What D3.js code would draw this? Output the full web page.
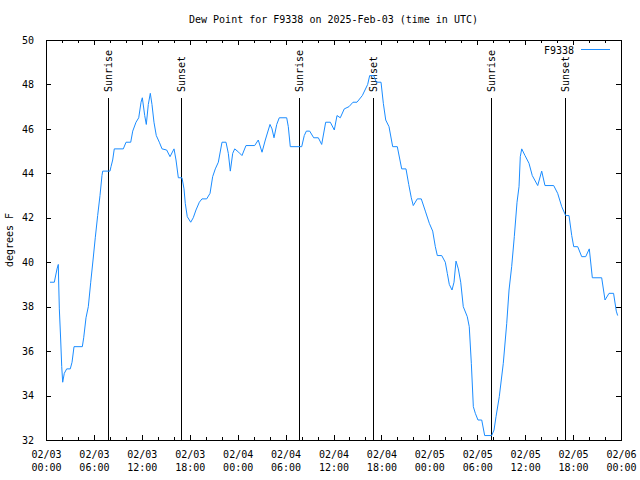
<!DOCTYPE html>
<html>
<head>
<meta charset="utf-8">
<script src="https://cdn.jsdelivr.net/npm/d3@7"></script>
<style>
  html, body { margin: 0; padding: 0; background: #fff; }
  svg { display: block; }
  text { font-family: "DejaVu Sans Mono", "Liberation Mono", monospace; font-size: 10px; fill: #000; }
</style>
</head>
<body>
<svg id="chart" width="640" height="480"></svg>
<script>
// ---- Data (hours since 2025-02-03 00:00 UTC) ----
const titleText = "Dew Point for F9338 on 2025-Feb-03 (time in UTC)";
const seriesName = "F9338";
const yLabel = "degrees F";
const hours = [
  0.50, 1.04, 1.38, 1.54, 1.58, 1.67, 1.84, 1.97, 2.09, 2.29, 2.59, 3.04, 3.26, 3.51, 4.55, 4.72,
  5.01, 5.30, 5.60, 5.89, 6.17, 6.47, 6.76, 7.01, 7.10, 8.01, 8.14, 8.35, 8.55, 9.68, 10.02, 10.61,
  10.86, 11.27, 11.61, 11.90, 12.06, 12.36, 12.56, 12.81, 13.06, 13.27, 13.52, 13.81, 14.19, 14.53,
  15.11, 15.53, 16.03, 16.28, 16.57, 17.03, 17.28, 17.44, 17.69, 18.12, 18.44, 18.78, 19.20, 19.53,
  20.12, 20.54, 20.87, 21.20, 21.58, 22.04, 22.54, 22.83, 23.08, 23.38, 23.63, 24.13, 24.54, 25.04,
  26.13, 26.58, 27.05, 27.46, 28.05, 28.30, 28.55, 28.89, 29.21, 30.14, 30.34, 30.59, 32.02, 32.34,
  32.60, 33.02, 33.52, 34.10, 34.52, 35.02, 35.60, 36.10, 36.44, 36.85, 37.35, 37.94, 38.44, 38.94,
  39.61, 40.28, 40.53, 41.03, 41.36, 41.95, 42.24, 42.54, 42.95, 43.41, 43.99, 44.54, 45.08, 45.42,
  45.74, 45.99, 46.49, 46.99, 47.50, 48.00, 48.42, 48.75, 49.00, 49.55, 50.00, 50.25, 50.50, 50.84,
  51.09, 51.34, 51.63, 51.93, 52.25, 52.75, 53.00, 53.26, 53.51, 53.76, 54.09, 54.56, 54.93, 55.81,
  56.10, 56.35, 56.76, 57.26, 57.69, 57.98, 58.31, 58.64, 58.98, 59.23, 59.39, 59.57, 59.98, 60.48,
  60.89, 61.57, 62.07, 62.48, 63.57, 64.07, 64.58, 65.07, 65.49, 65.83, 66.08, 66.58, 67.08, 67.58,
  68.03, 68.41, 69.58, 70.00, 70.50, 71.07, 71.41, 71.58
];
const dewPoint = [
  39.1, 39.1, 39.7, 39.9, 39.2, 37.9, 36.5, 35.3, 34.6, 35.0, 35.2, 35.2, 35.5, 36.2, 36.2, 36.6,
  37.5, 38.0, 39.1, 40.1, 41.1, 42.1, 43.0, 43.9, 44.1, 44.1, 44.3, 44.6, 45.1, 45.1, 45.4, 45.4,
  45.9, 46.3, 46.5, 47.2, 47.4, 46.6, 46.2, 47.1, 47.6, 47.1, 46.3, 45.7, 45.4, 45.1,
  45.05, 44.75, 45.1, 44.6, 43.8, 43.8, 43.3, 42.65, 42.05, 41.8, 42.0, 42.35, 42.7, 42.85,
  42.85, 43.1, 43.85, 44.2, 44.5, 45.4, 45.4, 44.9, 44.1, 44.9, 45.1, 44.95, 44.8, 45.25,
  45.25, 45.5, 44.95, 45.5, 46.2, 46.0, 45.6, 46.2, 46.5, 46.5, 46.1, 45.2, 45.2, 45.7,
  45.9, 45.9, 45.6, 45.6, 45.3, 46.3, 46.3, 45.95, 46.6, 46.5, 46.9, 47.0, 47.2, 47.2,
  47.5, 48.0, 48.4, 48.4, 48.1, 48.1, 47.15, 46.4, 46.1, 45.2, 45.2, 44.2, 44.2, 43.5,
  42.9, 42.55, 42.85, 42.85, 42.3, 41.75, 41.4, 40.7, 40.3, 40.3, 40.0, 39.5, 39.0, 38.75,
  39.1, 40.05, 39.7, 39.1, 38.0, 37.55, 37.1, 35.45, 33.5, 33.2, 32.9, 32.9, 32.2, 32.2,
  32.45, 33.05, 33.95, 35.45, 37.25, 38.75, 39.8, 41.15, 42.7, 43.4, 44.75, 45.1, 44.8, 44.45,
  43.9, 43.45, 44.1, 43.45, 43.45, 43.1, 42.5, 42.1, 42.1, 41.2, 40.7, 40.7, 40.25, 40.25,
  40.6, 39.3, 39.3, 38.3, 38.6, 38.6, 37.8, 37.6
];
const sunLabels = ["Sunrise", "Sunset", "Sunrise", "Sunset", "Sunrise", "Sunset"];
const sunHours = [7.80, 16.94, 31.72, 40.99, 55.76, 65.03];
const yTicks = [32, 34, 36, 38, 40, 42, 44, 46, 48, 50];
const majorTickHours = [0, 6, 12, 18, 24, 30, 36, 42, 48, 54, 60, 66, 72];
const minorTickHours = d3.range(0, 73, 2);

// ---- Setup ----
const t0 = Date.UTC(2025, 1, 3, 0, 0);
const toDate = h => new Date(t0 + h * 3600e3);
const svg = d3.select("#chart");
const L = 46, R = 621, T = 40, B = 440;

const x = d3.scaleUtc().domain([toDate(0), toDate(72)]).range([L, R]);
const y = d3.scaleLinear().domain([32, 50]).range([B, T]);

const fmtDay = d3.utcFormat("%m/%d");
const fmtTime = d3.utcFormat("%H:%M");

// title
svg.append("text").attr("x", (L + R) / 2).attr("y", 23)
  .attr("text-anchor", "middle").text(titleText);

// y label
svg.append("text").attr("transform", `translate(13,${(T + B) / 2}) rotate(-90)`)
  .attr("text-anchor", "middle").text(yLabel);

// minor x ticks (bottom, top)
const minorBottom = d3.axisBottom(x).tickValues(minorTickHours.map(toDate))
  .tickSizeInner(-3).tickSizeOuter(0).tickFormat("");
const minorTop = d3.axisTop(x).tickValues(minorTickHours.map(toDate))
  .tickSizeInner(-3).tickSizeOuter(0).tickFormat("");
svg.append("g").attr("transform", `translate(0,${B})`).call(minorBottom);
svg.append("g").attr("transform", `translate(0,${T})`).call(minorTop);

// major x ticks bottom with two-line labels
const gx = svg.append("g").attr("transform", `translate(0,${B})`)
  .call(d3.axisBottom(x).tickValues(majorTickHours.map(toDate))
    .tickSizeInner(-5).tickSizeOuter(0).tickPadding(0).tickFormat(""));
gx.selectAll(".tick text").each(function(d) {
  const t = d3.select(this).attr("y", 0).attr("dy", null);
  t.append("tspan").attr("x", 0).attr("y", 18).text(fmtDay(d));
  t.append("tspan").attr("x", 0).attr("y", 31).text(fmtTime(d));
});
svg.append("g").attr("transform", `translate(0,${T})`)
  .call(d3.axisTop(x).tickValues(majorTickHours.map(toDate))
    .tickSizeInner(-5).tickSizeOuter(0).tickFormat(""));

// y axes
svg.append("g").attr("transform", `translate(${L},0)`)
  .call(d3.axisLeft(y).tickValues(yTicks).tickSizeInner(-5).tickSizeOuter(0)
    .tickPadding(12).tickFormat(d3.format("d")));
svg.append("g").attr("transform", `translate(${R},0)`)
  .call(d3.axisRight(y).tickValues(yTicks).tickSizeInner(-5).tickSizeOuter(0).tickFormat(""));

svg.selectAll(".domain, .tick line").attr("stroke", "#000").attr("shape-rendering", "crispEdges");
svg.selectAll(".tick text").attr("font-family", null).attr("font-size", null).attr("fill", "#000");
svg.selectAll("g").attr("font-family", null).attr("font-size", null);

// sunrise / sunset lines
const sun = svg.append("g");
sunHours.forEach((h, i) => {
  const xp = Math.round(x(toDate(h))) + 0.5;
  sun.append("line").attr("x1", xp).attr("x2", xp).attr("y1", 98).attr("y2", B)
    .attr("stroke", "#000").attr("stroke-width", 1).attr("shape-rendering", "crispEdges");
  sun.append("text").attr("transform", `translate(${xp},92) rotate(-90)`)
    .attr("text-anchor", "start").attr("dy", "0.35em").text(sunLabels[i]);
});

// data line
const data = hours.map((h, i) => ({ t: toDate(h), v: dewPoint[i] }));
svg.append("path").datum(data)
  .attr("fill", "none").attr("stroke", "#1a8cff").attr("stroke-width", 1)
  .attr("d", d3.line().x(d => x(d.t)).y(d => y(d.v)));

// legend
svg.append("text").attr("x", 574).attr("y", 53.5).attr("text-anchor", "end").text(seriesName);
svg.append("line").attr("x1", 581).attr("x2", 610).attr("y1", 49.5).attr("y2", 49.5)
  .attr("stroke", "#1a8cff").attr("stroke-width", 1);
</script>
</body>
</html>
